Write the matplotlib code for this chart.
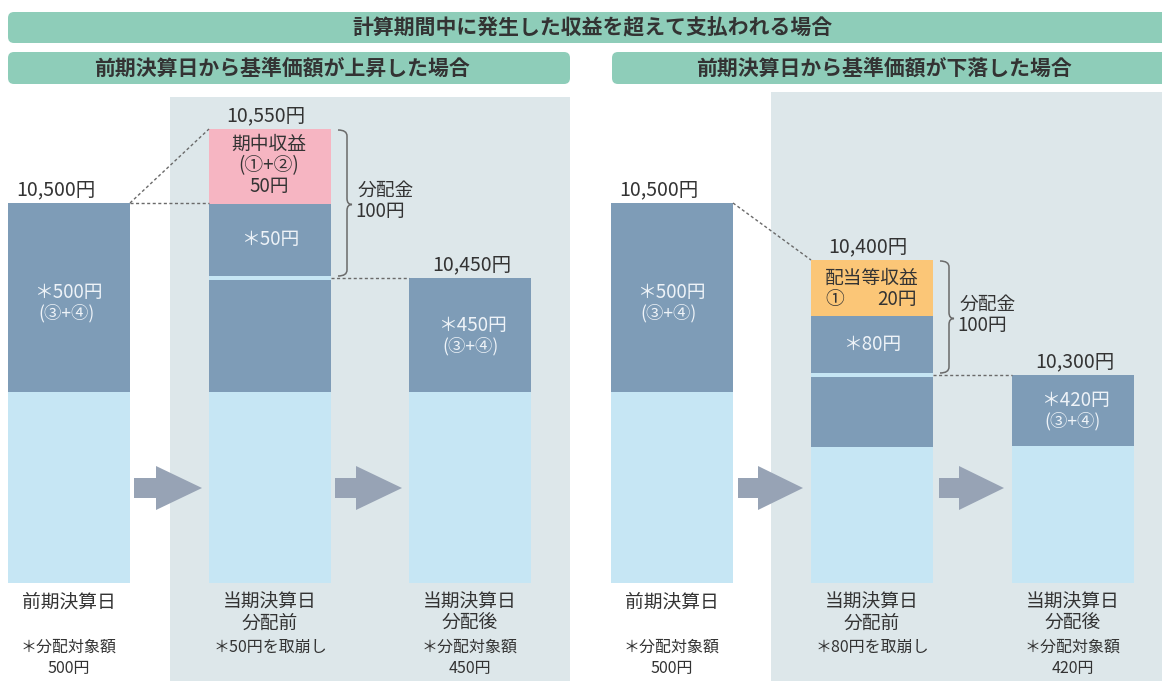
import matplotlib
matplotlib.use("Agg")
import matplotlib.pyplot as plt
from matplotlib.patches import FancyBboxPatch, Rectangle, Polygon, PathPatch
from matplotlib.path import Path

plt.rcParams['font.family'] = ['Noto Sans CJK JP', 'DejaVu Sans']

# ---------------- data ----------------
title_main = "計算期間中に発生した収益を超えて支払われる場合"
title_up = "前期決算日から基準価額が上昇した場合"
title_down = "前期決算日から基準価額が下落した場合"

stage_names = ["前期決算日", "当期決算日\n分配前", "当期決算日\n分配後"]

nav_up = [10500, 10550, 10450]          # 基準価額 (上昇ケース)
nav_down = [10500, 10400, 10300]        # 基準価額 (下落ケース)

dist_amount = 100                       # 分配金
income_up = 50                          # 期中収益 (①+②)
income_down = 20                        # 配当等収益 ①
drawdown_up = 50                        # 取崩し額
drawdown_down = 80
target_up = [500, 450]                  # 分配対象額 (前, 後)
target_down = [500, 420]

# ---------------- layout (pixel geometry of the schematic) ----------------
W, H = 1162, 681
BAR_W = 122
LIGHT_BOTTOM = 583
panels = [
    dict(nav=nav_up, income=income_up, draw=drawdown_up, target=target_up,
         income_color="#f6b5c2",
         xs=[8, 209, 409], tops=[203, 129, 278], inc_bot=204, split=(276, 280),
         dark_bot=[392, 392, 392], gray=(170, 97, 570),
         banner=(8, 570), arrows=[(134, 156, 202), (335, 356, 402)]),
    dict(nav=nav_down, income=income_down, draw=drawdown_down, target=target_down,
         income_color="#fbc677",
         xs=[611, 811, 1012], tops=[203, 260, 375], inc_bot=316, split=(373, 377),
         dark_bot=[392, 447, 446], gray=(771, 92, 1162),
         banner=(612, 1172), arrows=[(738, 758, 803), (939, 959, 1004)]),
]

DARK = "#7e9cb7"
LIGHT = "#c6e6f4"
GRAY = "#dde7ea"
TEAL = "#8ecdb9"
ARROW = "#97a3b5"
TXT = "#333333"
WTXT = "#eef3f8"

FS_BIG = 14
FS_MID = 13.5
FS_SMALL = 11.5

fig = plt.figure(figsize=(W / 100, H / 100), dpi=100)
ax = fig.add_axes([0, 0, 1, 1])
ax.set_xlim(0, W)
ax.set_ylim(H, 0)
ax.axis("off")

def yen(v):
    return f"{v:,}円"

# top banner
ax.add_patch(FancyBboxPatch((8, 12), W + 20, 31, boxstyle="round,pad=0,rounding_size=6",
                            fc=TEAL, ec="none", zorder=1))
ax.text(592, 28, title_main, ha="center", va="center", fontsize=15, color=TXT,
        fontweight="bold", zorder=5)

def brace(x0, ytop, ybot, ymid):
    x1, x2, r = x0 + 9, x0 + 14, 6
    verts = [(x0, ytop), (x1, ytop), (x1, ytop + r),
             (x1, ymid - r),
             (x1, ymid), (x2, ymid),
             (x1, ymid), (x1, ymid + r),
             (x1, ybot - r),
             (x1, ybot), (x0, ybot)]
    codes = [Path.MOVETO, Path.CURVE3, Path.CURVE3,
             Path.LINETO,
             Path.CURVE3, Path.CURVE3,
             Path.CURVE3, Path.CURVE3,
             Path.LINETO,
             Path.CURVE3, Path.CURVE3]
    ax.add_patch(PathPatch(Path(verts, codes), fc="none", ec="#6a6a6a", lw=1.1, zorder=6))

for pi, p in enumerate(panels):
    gx0, gy0, gx1 = p["gray"]
    ax.add_patch(Rectangle((gx0, gy0), gx1 - gx0, H - gy0, fc=GRAY, ec="none", zorder=0))
    bx0, bx1 = p["banner"]
    ax.add_patch(FancyBboxPatch((bx0, 52), bx1 - bx0, 32, boxstyle="round,pad=0,rounding_size=6",
                                fc=TEAL, ec="none", zorder=1))
    ax.text(282 if pi == 0 else 884, 68, title_up if pi == 0 else title_down,
            ha="center", va="center", fontsize=15, color=TXT, fontweight="bold", zorder=5)

    xs, tops, nav = p["xs"], p["tops"], p["nav"]
    cx = [x + BAR_W / 2 for x in xs]

    # light (base) parts
    for i in range(3):
        ax.bar(cx[i], LIGHT_BOTTOM - p["dark_bot"][i], bottom=p["dark_bot"][i], width=BAR_W,
               color=LIGHT, zorder=2)
    # bar 1 dark
    ax.bar(cx[0], p["dark_bot"][0] - tops[0], bottom=tops[0], width=BAR_W, color=DARK, zorder=2)
    # bar 2: income + drawdown + remaining
    ax.bar(cx[1], p["inc_bot"] - tops[1], bottom=tops[1], width=BAR_W,
           color=p["income_color"], zorder=2)
    s0, s1 = p["split"]
    ax.bar(cx[1], s0 - p["inc_bot"], bottom=p["inc_bot"], width=BAR_W, color=DARK, zorder=2)
    ax.bar(cx[1], s1 - s0, bottom=s0, width=BAR_W, color=LIGHT, zorder=2)
    ax.bar(cx[1], p["dark_bot"][1] - s1, bottom=s1, width=BAR_W, color=DARK, zorder=2)
    # bar 3 dark
    ax.bar(cx[2], p["dark_bot"][2] - tops[2], bottom=tops[2], width=BAR_W, color=DARK, zorder=2)

    # NAV labels
    offs = [-13, -4, 2]
    for i in range(3):
        ax.text(cx[i] + offs[i], tops[i] - 13, yen(nav[i]),
                ha="center", va="center", fontsize=FS_BIG, color=TXT, zorder=5)

    # dashed connectors
    dash = dict(color="#6a6a6a", lw=1.0, ls=(0, (2.2, 1.8)), zorder=4)
    x_r0 = xs[0] + BAR_W
    ax.plot([x_r0, xs[1]], [tops[0], tops[1]], **dash)
    if pi == 0:
        ax.plot([x_r0, xs[1]], [tops[0], tops[0]], **dash)
    ax.plot([xs[1] + BAR_W, xs[2]], [tops[2], tops[2]], **dash)

    # brace for 分配金
    bxb = xs[1] + BAR_W + 7
    brace(bxb, tops[1] + 1, s0, (tops[1] + s0) / 2 + 2)
    ax.text(bxb + 20, (tops[1] + s0) / 2 - 12, "分配金", ha="left", va="center",
            fontsize=FS_MID, color=TXT, zorder=5)
    ax.text(bxb + 17, (tops[1] + s0) / 2 + 9, f"{dist_amount}円", ha="left", va="center",
            fontsize=FS_MID, color=TXT, zorder=5)

    # text in bars
    def two_lines(x, y, l1, l2, color=WTXT):
        ax.text(x, y, l1, ha="center", va="center", fontsize=FS_MID, color=color, zorder=5)
        ax.text(x - 2, y + 21, l2, ha="center", va="center", fontsize=12.5, color=color, zorder=5)

    mid0 = (tops[0] + p["dark_bot"][0]) / 2
    two_lines(cx[0] - 1, mid0 - 5, f"＊{p['target'][0]}円", "(③+④)")
    mid2 = (tops[2] + p["dark_bot"][2]) / 2
    two_lines(cx[2] + 2, mid2 - 10, f"＊{p['target'][1]}円", "(③+④)")

    inc_mid = (tops[1] + p["inc_bot"]) / 2
    if pi == 0:
        for k, t in enumerate(["期中収益", "(①+②)", f"{p['income']}円"]):
            ax.text(cx[1] - 1, inc_mid + (k - 1) * 21 - 1, t, ha="center", va="center",
                    fontsize=FS_MID, color=TXT, zorder=5)
    else:
        ax.text(cx[1], inc_mid - 10, "配当等収益", ha="center", va="center",
                fontsize=FS_MID, color=TXT, zorder=5)
        ax.text(xs[1] + 14, inc_mid + 12, "①", ha="left", va="center",
                fontsize=FS_MID, color=TXT, zorder=5)
        ax.text(xs[1] + 106, inc_mid + 12, f"{p['income']}円", ha="right", va="center",
                fontsize=FS_MID, color=TXT, zorder=5)
    ax.text(cx[1], (p["inc_bot"] + s0) / 2, f"＊{p['draw']}円", ha="center", va="center",
            fontsize=FS_MID, color=WTXT, zorder=5)

    # arrows
    for (a0, ah, a1) in p["arrows"]:
        ax.add_patch(Polygon([(a0, 478), (ah, 478), (ah, 466), (a1, 488), (ah, 510),
                              (ah, 498), (a0, 498)], closed=True, fc=ARROW, ec="none", zorder=3))

    # stage labels
    for i in range(3):
        lines = stage_names[i].split("\n")
        for k, t in enumerate(lines):
            ax.text(cx[i], 602 + 21 * k, t, ha="center", va="center",
                    fontsize=FS_MID, color=TXT, zorder=5)
    ax.text(cx[0], 647, "＊分配対象額", ha="center", va="center", fontsize=FS_SMALL, color=TXT, zorder=5)
    ax.text(cx[0], 668, f"{p['target'][0]}円", ha="center", va="center", fontsize=FS_SMALL,
            color=TXT, zorder=5)
    ax.text(cx[1], 647, f"＊{p['draw']}円を取崩し", ha="center", va="center", fontsize=FS_SMALL,
            color=TXT, zorder=5)
    ax.text(cx[2], 647, "＊分配対象額", ha="center", va="center", fontsize=FS_SMALL, color=TXT, zorder=5)
    ax.text(cx[2], 668, f"{p['target'][1]}円", ha="center", va="center", fontsize=FS_SMALL,
            color=TXT, zorder=5)

fig.savefig("out.png", dpi=100, facecolor="white")
